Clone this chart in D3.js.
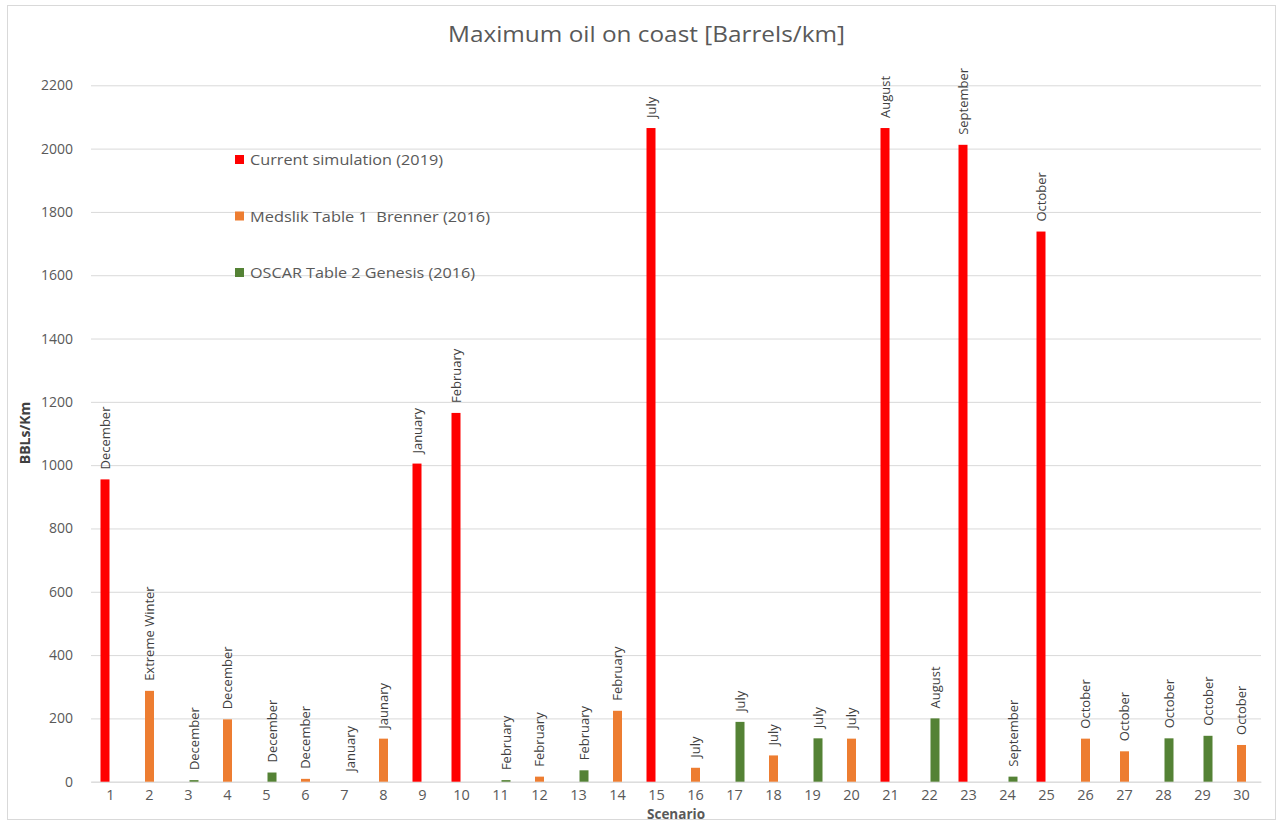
<!DOCTYPE html>
<html>
<head>
<meta charset="utf-8">
<script src="https://cdn.jsdelivr.net/npm/d3@7"></script>
<style>
body{margin:0;background:#fff;}
text{font-family:"Open Sans",sans-serif;white-space:pre;}
</style>
</head>
<body>
<svg id="chart" width="1282" height="823"></svg>
<script>
//data
var scenarios=d3.range(1,31);
var monthLabels=["December","Extreme Winter","December","December","December","December","January","Jaunary","January","February",
"February","February","February","February","July","July","July","July","July","July",
"August","August","September","September","October","October","October","October","October","October"];
var currentSim=[955,null,null,null,null,null,null,null,1005,1165,null,null,null,null,2065,null,null,null,null,null,2065,null,2012,null,1738,null,null,null,null,null];
var medslik=[null,287,null,197,null,9,null,136,null,null,null,16,null,224,null,44,null,83,null,136,null,null,null,null,null,136,96,null,null,116];
var oscar=[null,null,5,null,29,null,0,null,null,null,5,null,36,null,null,null,189,null,137,null,null,200,null,16,null,null,null,137,145,null];
var seriesNames=["Current simulation (2019)","Medslik Table 1  Brenner (2016)","OSCAR Table 2 Genesis (2016)"];
var seriesColors=["#ff0000","#ed7d31","#548235"];
var yTicks=d3.range(0,2201,200);

var svg=d3.select("#chart");
var series=[currentSim,medslik,oscar];

var x=d3.scaleBand().domain(scenarios).range([91,1261]).padding(0);
var offset=d3.scaleLinear().domain([0,2]).range([-5.5,5.5]);
var y=d3.scaleLinear().domain([0,2200]).range([781.7,85.3]);
var barW=9;

//frame
svg.append("rect").attr("x",7.5).attr("y",5.5).attr("width",1268).attr("height",814)
    .attr("fill","none").attr("stroke","#d9d9d9");

//title
svg.append("text").attr("x",448).attr("y",42)
    .attr("font-size",21).attr("fill","#595959")
    .attr("textLength",397).attr("lengthAdjust","spacingAndGlyphs")
    .text("Maximum oil on coast [Barrels/km]");

//grid + y axis
var yAxis=svg.append("g").attr("transform","translate(91,0)")
    .call(d3.axisLeft(y).tickValues(yTicks).tickFormat(d3.format("d")).tickSize(-1170).tickPadding(18));
yAxis.select(".domain").remove();
yAxis.selectAll("line").attr("stroke","#d9d9d9");
yAxis.selectAll("text").attr("font-size",14).attr("fill","#595959").attr("font-family","Open Sans");

//x axis
var xAxis=svg.append("g").attr("transform","translate(0,781.7)")
    .call(d3.axisBottom(x).tickSize(0).tickPadding(8));
xAxis.select(".domain").attr("stroke","#d9d9d9");
xAxis.selectAll("text").attr("font-size",14.5).attr("fill","#595959").attr("font-family","Open Sans");

//bars
var points=[];
series.forEach(function(vals,s){
    vals.forEach(function(v,i){
        if(v!==null){points.push({s:s,cat:scenarios[i],v:v,label:monthLabels[i]});}
    });
});

svg.append("g").selectAll("rect").data(points.filter(function(d){return d.v>0;})).enter().append("rect")
    .attr("x",function(d){return x(d.cat)+x.bandwidth()/2+offset(d.s)-barW/2;})
    .attr("y",function(d){return y(d.v);})
    .attr("width",barW)
    .attr("height",function(d){return y(0)-y(d.v);})
    .attr("fill",function(d){return seriesColors[d.s];});

//month labels
svg.append("g").selectAll("text").data(points).enter().append("text")
    .attr("transform",function(d){
        var cx=x(d.cat)+x.bandwidth()/2+offset(d.s)+4.5;
        return "translate("+cx+","+(y(d.v)-10)+") rotate(-90)";
    })
    .attr("font-size",13).attr("fill","#404040").attr("font-family","Open Sans")
    .text(function(d){return d.label;});

//axis titles
svg.append("text").attr("x",676).attr("y",819).attr("text-anchor","middle")
    .attr("font-size",13.5).attr("font-weight","bold").attr("fill","#595959").text("Scenario");
svg.append("text").attr("transform","translate(30,433) rotate(-90)").attr("text-anchor","middle")
    .attr("font-size",14).attr("font-weight","bold").attr("fill","#404040").text("BBLs/Km");

//legend
var legendLen=[193,240,225];
var legend=svg.append("g").selectAll("g").data(seriesNames).enter().append("g")
    .attr("transform",function(d,i){return "translate(235,"+(155+i*56.5)+")";});
legend.append("rect").attr("width",9).attr("height",9).attr("fill",function(d,i){return seriesColors[i];});
legend.append("text").attr("x",15).attr("y",10).attr("font-size",14.5).attr("fill","#595959")
    .attr("textLength",function(d,i){return legendLen[i];}).attr("lengthAdjust","spacingAndGlyphs")
    .text(function(d){return d;});
</script>
</body>
</html>
